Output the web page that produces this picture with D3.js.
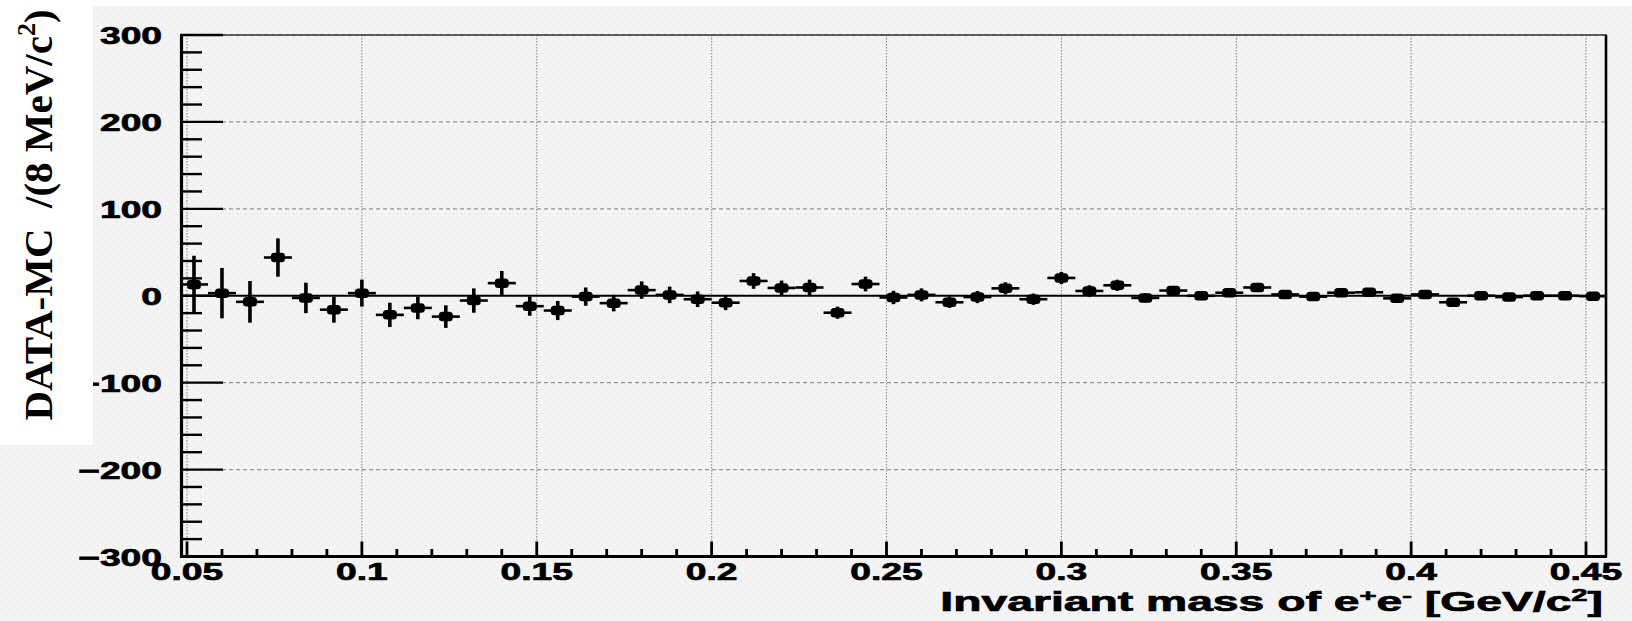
<!DOCTYPE html>
<html>
<head>
<meta charset="utf-8">
<script src="https://cdn.jsdelivr.net/npm/d3@7"></script>
<style>
  html, body { margin: 0; padding: 0; background: #fff; }
  svg { display: block; }
  text { font-family: "Liberation Sans", Arial, Helvetica, sans-serif; font-weight: bold; fill: #000; }
  .heavy { stroke: #000; stroke-width: 0.7px; }
  .ytitle { font-family: "Liberation Serif", "Times New Roman", serif; white-space: pre; }
</style>
</head>
<body>
<svg id="chart" width="1632" height="621"></svg>
<script>
// Invariant-mass bin centres (GeV/c^2), 8 MeV bins
const massBins = [
  0.052, 0.060, 0.068, 0.076, 0.084, 0.092, 0.100, 0.108, 0.116, 0.124,
  0.132, 0.140, 0.148, 0.156, 0.164, 0.172, 0.180, 0.188, 0.196, 0.204,
  0.212, 0.220, 0.228, 0.236, 0.244, 0.252, 0.260, 0.268, 0.276, 0.284,
  0.292, 0.300, 0.308, 0.316, 0.324, 0.332, 0.340, 0.348, 0.356, 0.364,
  0.372, 0.380, 0.388, 0.396, 0.404, 0.412, 0.420, 0.428, 0.436, 0.444,
  0.452
];
// DATA - MC difference per bin
const dataMinusMC = [
  13, 3, -7, 44, -2.5, -16, 3, -22, -14, -24,
  -5.5, 14.5, -12, -17, -1, -8.5, 6.5, 1, -4, -8,
  17, 9, 9.5, -19.5, 13.5, -2, 1, -7.5, -1.5, 8.5,
  -4, 20.5, 5.5, 12, -2.5, 6, 0, 3.5, 9.5, 1.5,
  -1, 3.5, 4, -3, 1.5, -7.5, 0, -1.5, 0, 0,
  -0.5
];
// statistical uncertainty per bin
const statErrors = [
  33, 29, 24, 22, 17.5, 15, 15.5, 14, 13, 13,
  14, 14, 11, 11, 10.5, 9.5, 10, 9.5, 9, 8.5,
  9, 8.5, 9, 7, 8.5, 7.7, 7.5, 6.5, 7, 7,
  6.5, 7, 6.5, 6.5, 5, 5, 5, 4, 4, 4,
  3, 3, 3, 3, 3, 2.5, 2, 2, 2, 2,
  2
];
const binHalfWidth = 0.004;

const xTickValues = [0.05, 0.1, 0.15, 0.2, 0.25, 0.3, 0.35, 0.4, 0.45];
const xTickLabels = ["0.05", "0.1", "0.15", "0.2", "0.25", "0.3", "0.35", "0.4", "0.45"];
const xMinorTicks = [0.06, 0.07, 0.08, 0.09, 0.11, 0.12, 0.13, 0.14, 0.16, 0.17, 0.18, 0.19,
  0.21, 0.22, 0.23, 0.24, 0.26, 0.27, 0.28, 0.29, 0.31, 0.32, 0.33, 0.34,
  0.36, 0.37, 0.38, 0.39, 0.41, 0.42, 0.43, 0.44];
const yTickValues = [300, 200, 100, 0, -100, -200, -300];
const yTickLabels = ["300", "200", "100", "0", "\u2212100", "\u2212200", "\u2212300"];
const yMinorTicks = d3.range(-280, 300, 20).filter(v => v % 100 !== 0);

const W = 1632, H = 621;
const svg = d3.select("#chart");

// stippled paper background
const defs = svg.append("defs");
const pat = defs.append("pattern")
  .attr("id", "paper").attr("width", 8).attr("height", 8)
  .attr("patternUnits", "userSpaceOnUse");
pat.append("rect").attr("width", 8).attr("height", 8).attr("fill", "#f4f4f4");
pat.append("rect").attr("x", 1).attr("y", 1).attr("width", 1.2).attr("height", 1.2).attr("fill", "#dedede");
pat.append("rect").attr("x", 5).attr("y", 5).attr("width", 1.2).attr("height", 1.2).attr("fill", "#dedede");
svg.append("rect").attr("x", 0).attr("y", 6).attr("width", W).attr("height", H - 6).attr("fill", "url(#paper)");

const x = d3.scaleLinear().domain([0.048, 0.456]).range([180, 1607]);
const y = d3.scaleLinear().domain([-300, 300]).range([556.5, 35]);
const [x0, x1] = x.range();
const [yb, yt] = y.range();

// grid
const grid = svg.append("g");
grid.selectAll("line.vg").data(xTickValues).join("line")
  .attr("x1", d => x(d)).attr("x2", d => x(d))
  .attr("y1", yt).attr("y2", yb)
  .attr("stroke", "#8c8c8c").attr("stroke-width", 1.1).attr("stroke-dasharray", "1.5,1.5");
grid.selectAll("line.hg").data(yTickValues.filter(v => v !== 0)).join("line")
  .attr("x1", x0).attr("x2", x1)
  .attr("y1", d => y(d)).attr("y2", d => y(d))
  .attr("stroke", "#959595").attr("stroke-width", 1.1).attr("stroke-dasharray", "4,3");

// zero reference line
svg.append("line").attr("x1", x0).attr("x2", x1).attr("y1", y(0)).attr("y2", y(0))
  .attr("stroke", "#000").attr("stroke-width", 2.2);

// frame
svg.append("line").attr("x1", x0).attr("x2", x1).attr("y1", yt).attr("y2", yt)
  .attr("stroke", "#333").attr("stroke-width", 1.4);
svg.append("line").attr("x1", x1 - 1).attr("x2", x1 - 1).attr("y1", yt).attr("y2", yb)
  .attr("stroke", "#000").attr("stroke-width", 2.6);
svg.append("line").attr("x1", x0 + 1.5).attr("x2", x0 + 1.5).attr("y1", yt).attr("y2", yb + 1.5)
  .attr("stroke", "#000").attr("stroke-width", 3.2);
svg.append("line").attr("x1", x0).attr("x2", x1).attr("y1", yb).attr("y2", yb)
  .attr("stroke", "#000").attr("stroke-width", 3.2);

// y ticks
const axes = svg.append("g").attr("stroke", "#000");
axes.selectAll("line.ymaj").data(yTickValues).join("line")
  .attr("x1", x0).attr("x2", x0 + 43)
  .attr("y1", d => y(d)).attr("y2", d => y(d)).attr("stroke-width", 2.4);
axes.selectAll("line.ymin").data(yMinorTicks).join("line")
  .attr("x1", x0).attr("x2", x0 + 22)
  .attr("y1", d => y(d)).attr("y2", d => y(d)).attr("stroke-width", 2.4);
// x ticks
axes.selectAll("line.xmaj").data(xTickValues).join("line")
  .attr("x1", d => x(d)).attr("x2", d => x(d))
  .attr("y1", yb).attr("y2", yb - 15).attr("stroke-width", 2.8);
axes.selectAll("line.xmin").data(xMinorTicks).join("line")
  .attr("x1", d => x(d)).attr("x2", d => x(d))
  .attr("y1", yb).attr("y2", yb - 7.5).attr("stroke-width", 2.8);

// tick labels (wide bold sans)
const labelStretch = 1.55;
svg.append("g").selectAll("text").data(yTickValues).join("text")
  .attr("class", "heavy")
  .attr("text-anchor", "end").attr("font-size", 24)
  .attr("transform", d => `translate(162,${y(d) + 9}) scale(${labelStretch},1)`)
  .text((d, i) => yTickLabels[i]);
svg.append("g").selectAll("text").data(xTickValues).join("text")
  .attr("class", "heavy")
  .attr("text-anchor", "middle").attr("font-size", 24)
  .attr("transform", d => `translate(${x(d)},580) scale(${labelStretch},1)`)
  .text((d, i) => xTickLabels[i]);

// data points with error bars
const pts = svg.append("g").selectAll("g").data(massBins).join("g");
pts.append("line")
  .attr("x1", d => x(d)).attr("x2", d => x(d))
  .attr("y1", (d, i) => y(dataMinusMC[i] - statErrors[i]))
  .attr("y2", (d, i) => y(dataMinusMC[i] + statErrors[i]))
  .attr("stroke", "#000").attr("stroke-width", 3.6);
pts.append("line")
  .attr("x1", d => x(d - binHalfWidth)).attr("x2", d => x(d + binHalfWidth))
  .attr("y1", (d, i) => y(dataMinusMC[i])).attr("y2", (d, i) => y(dataMinusMC[i]))
  .attr("stroke", "#000").attr("stroke-width", 2.6);
pts.append("rect")
  .attr("x", d => x(d) - 7).attr("y", (d, i) => y(dataMinusMC[i]) - 4.75)
  .attr("width", 14).attr("height", 9.5).attr("rx", 3.5)
  .attr("fill", "#000");

// x-axis title
const xt = svg.append("text").attr("class", "heavy").attr("text-anchor", "end").attr("font-size", 27);
xt.append("tspan").text("Invariant mass of e");
xt.append("tspan").attr("font-size", 17).attr("dy", -10).text("+");
xt.append("tspan").attr("dy", 10).text("e");
xt.append("tspan").attr("font-size", 17).attr("dy", -10).text("-");
xt.append("tspan").attr("dy", 10).text(" [GeV/c");
xt.append("tspan").attr("font-size", 17).attr("dy", -10).text("2");
xt.append("tspan").attr("dy", 10).text("]");
const xtLen = xt.node().getComputedTextLength();
xt.attr("transform", `translate(1603,611) scale(${663 / xtLen},1)`);

// y-axis title on its own white panel
svg.append("rect").attr("x", 0).attr("y", 0).attr("width", 93).attr("height", 445).attr("fill", "#fff");
const ytl = svg.append("text").attr("class", "ytitle")
  .attr("text-anchor", "middle").attr("font-size", 41)
  .attr("transform", "translate(52,215) rotate(-90)");
ytl.append("tspan").text("DATA-MC  /(8 MeV/c");
ytl.append("tspan").attr("font-size", 26).attr("dy", -17).text("2");
ytl.append("tspan").attr("dy", 17).text(")");
</script>
</body>
</html>
